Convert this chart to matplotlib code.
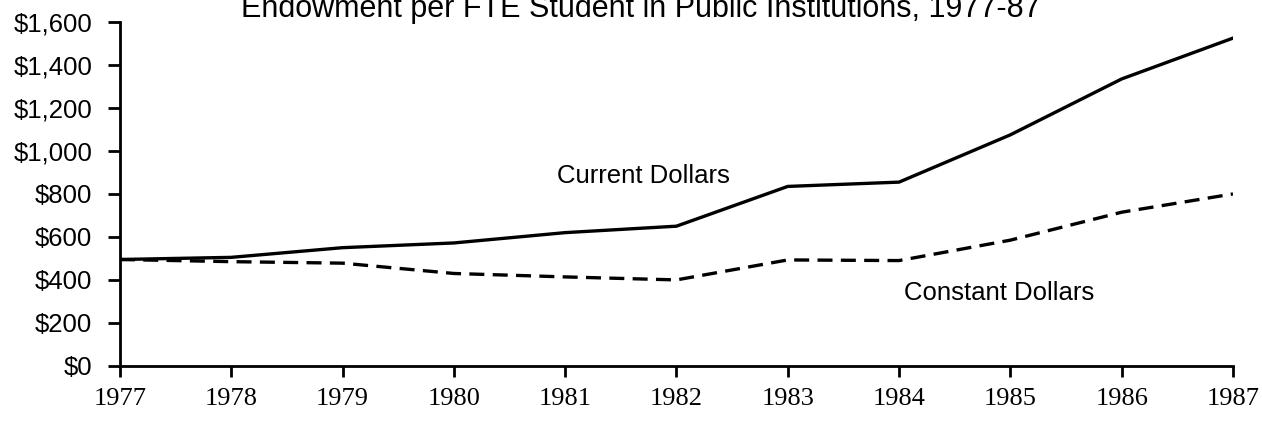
import matplotlib
matplotlib.use("Agg")
import matplotlib.pyplot as plt
from matplotlib.ticker import FuncFormatter

years = [1977, 1978, 1979, 1980, 1981, 1982, 1983, 1984, 1985, 1986, 1987]
current = [495, 505, 550, 572, 620, 650, 835, 855, 1075, 1335, 1525]
constant = [495, 485, 478, 430, 414, 400, 493, 490, 585, 715, 800]
y_ticks = [0, 200, 400, 600, 800, 1000, 1200, 1400, 1600]

plt.rcParams['font.family'] = ['Liberation Sans', 'DejaVu Sans']

fig = plt.figure(figsize=(12.62, 4.23), dpi=100)
ax = fig.add_axes([0.095, 0.135, 0.882, 0.813])

ax.plot(years, current, color="black", lw=2.4)
ax.plot(years, constant, color="black", lw=2.4, dashes=(4.5, 2.5))

ax.set_xlim(1977, 1987)
ax.set_ylim(0, 1600)
ax.set_yticks(y_ticks)
ax.yaxis.set_major_formatter(FuncFormatter(lambda v, p: "${:,.0f}".format(v)))
ax.set_xticks(years)
ax.set_xticklabels([str(y) for y in years], family="Liberation Serif", fontsize=19)
for lab in ax.get_yticklabels():
    lab.set_fontsize(18.5)

ax.spines["top"].set_visible(False)
ax.spines["right"].set_visible(False)
ax.spines["left"].set_linewidth(2)
ax.spines["bottom"].set_linewidth(2)
ax.tick_params(axis="y", length=9, width=2, pad=11)
ax.tick_params(axis="x", length=8, width=2, pad=8)

ax.text(1981.7, 885, "Current Dollars", fontsize=18.5, ha="center", va="center")
ax.text(1984.9, 340, "Constant Dollars", fontsize=18.5, ha="center", va="center")

fig.text(0.508, 0.978, "Endowment per FTE Student in Public Institutions, 1977-87",
         fontsize=22, ha="center", va="center")

fig.savefig("out.png", dpi=100)
